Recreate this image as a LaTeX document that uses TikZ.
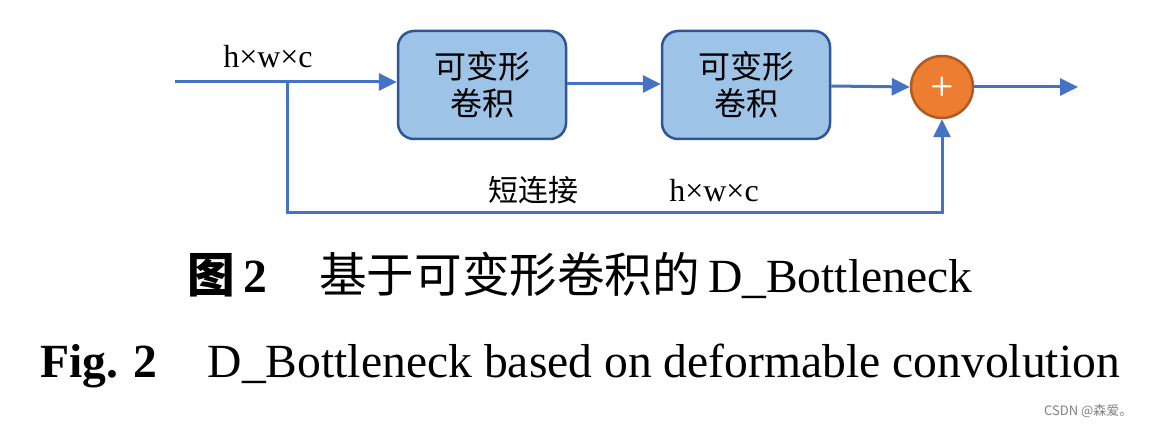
\documentclass[tikz,border=0pt]{standalone}
\usepackage{fontspec}
\setmainfont{Liberation Serif}
\newfontfamily\cjk{Noto Sans CJK SC}
\usetikzlibrary{arrows.meta}
\definecolor{lineblue}{HTML}{4472C4}
\definecolor{boxfill}{HTML}{9DC3E6}
\definecolor{boxedge}{HTML}{2F5597}
\definecolor{sumfill}{HTML}{ED7D31}
\definecolor{sumedge}{HTML}{AE5A21}
\tikzset{
  conv/.style={draw=boxedge, fill=boxfill, line width=2.5pt, rounded corners=16pt,
    minimum width=168pt, minimum height=108pt, inner sep=0pt, align=center,
    font=\fontsize{32}{37}\selectfont\cjk},
  sumnode/.style={circle, draw=sumedge, fill=sumfill, line width=2.5pt, minimum size=62pt, inner sep=0pt},
  flow/.style={draw=lineblue, line width=3pt},
  arr/.style={flow, -{Triangle[length=18pt,width=17pt]}},
  dimtext/.style={font=\fontsize{32}{32}\selectfont, anchor=base},
  captext/.style={font=\fontsize{47.6}{48}\selectfont, anchor=base}
}
\begin{document}
\begin{tikzpicture}[x=1pt,y=-1pt]
\useasboundingbox[fill=white] (0,0) rectangle (1149,427);
\node[conv] (c1) at (482,85) {可变形\\卷积};
\node[conv] (c2) at (746,85) {可变形\\卷积};
\node[sumnode] (s) at (942,87) {};
\node[font=\fontsize{27}{27}\selectfont\sffamily\bfseries, text=white] (plus) at (s.center) {+};
\coordinate (in) at (175,82);
\coordinate (br) at (287,82);
\coordinate (low) at (287,213);
\coordinate (out) at (1078,87);
\draw[arr] (in) -- (c1.west |- in);
\draw[arr] (c1.east |- 0,84) -- (c2.west |- 0,84);
\draw[arr] (c2.east |- 0,86) -- (s.west);
\draw[arr] (s.east) -- (out);
\draw[arr] (br) -- (low) -| (s.south);
\node[dimtext] (d1) at (268,68) {h×w×c};
\node[dimtext] (d2) at (714,202) {h×w×c};
\node[font=\fontsize{30}{30}\selectfont\cjk, anchor=base] (sc) at (533,202) {短连接};
\node[captext] (cap1) at (580,293) {{\cjk\bfseries 图}\,\textbf{2}\hspace{1.1em}{\cjk 基于可变形卷积的}\,D\_Bottleneck};
\node[captext] (cap2) at (580,378) {\textbf{Fig. 2}\hspace{1.05em}D\_Bottleneck based on deformable convolution};
\node[font=\fontsize{13}{13}\selectfont\cjk, text=gray, anchor=base east] (wm) at (1136,416) {CSDN @森爱。};
\end{tikzpicture}
\end{document}
